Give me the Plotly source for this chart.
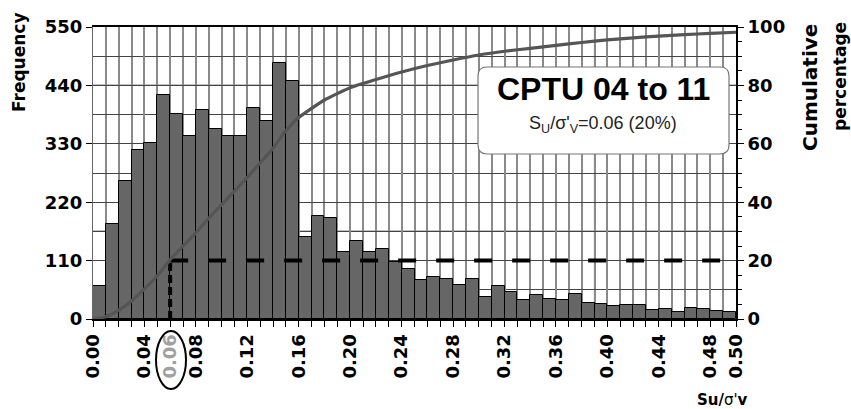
import plotly.graph_objects as go

# ---------------- data ----------------
bin_width = 0.01
bin_left = [round(i * bin_width, 2) for i in range(50)]
frequency = [63, 179, 259, 318, 332, 421, 386, 345, 394, 358,
             345, 345, 398, 373, 483, 448, 154, 194, 190, 126,
             147, 126, 132, 107, 94, 73, 80, 75, 64, 75,
             42, 63, 50, 35, 45, 38, 35, 47, 31, 28,
             24, 26, 26, 17, 19, 14, 20, 19, 15, 13]

cum_x = [0.00, 0.01, 0.02, 0.03, 0.04, 0.05, 0.06, 0.07, 0.08, 0.09,
         0.10, 0.11, 0.12, 0.13, 0.14, 0.15, 0.16, 0.18, 0.20, 0.22,
         0.24, 0.26, 0.28, 0.30, 0.32, 0.34, 0.36, 0.38, 0.40, 0.42,
         0.44, 0.46, 0.48, 0.50]
cum_pct = [0.0, 0.8, 3.0, 6.2, 10.3, 14.8, 20.3, 25.0, 29.5, 34.5,
           39.2, 43.8, 48.5, 53.5, 58.5, 64.5, 69.0, 75.0, 79.2, 82.0,
           84.6, 86.8, 88.7, 90.4, 91.7, 92.7, 93.7, 94.7, 95.6, 96.3,
           96.9, 97.4, 97.8, 98.2]

x_tickvals = [0.00, 0.04, 0.06, 0.08, 0.12, 0.16, 0.20, 0.24, 0.28, 0.32,
              0.36, 0.40, 0.44, 0.48, 0.50]
x_ticktext = ["0.00", "0.04", "<span style='color:#a0a0a0'>0.06</span>", "0.08",
              "0.12", "0.16", "0.20", "0.24", "0.28", "0.32", "0.36",
              "0.40", "0.44", "0.48", "0.50"]
freq_ticks = [0, 110, 220, 330, 440, 550]
pct_ticks = [0, 20, 40, 60, 80, 100]

su_value = 0.06        # selected Su/σ'v
su_pct_freq = 110      # 20 % level expressed on the frequency axis
emph_x = [0.06, 0.13, 0.30, 0.39, 0.43]   # darker grid lines
emph_y = [165, 440]

# ---------------- layout geometry ----------------
W, H = 851, 409
L, R, T, B = 93, 115, 27, 90
PW, PH = W - L - R, H - T - B


def px(xp):
    return (xp - L) / PW


def py(yp):
    return (H - B - yp) / PH


TICKFONT = dict(family="DejaVu Sans", size=18, color="black", weight="bold")
VGRID = "#8a8a8a"
HGRID = "#444444"

fig = go.Figure()

fig.add_trace(go.Bar(
    x=bin_left, y=frequency, width=bin_width, offset=0,
    marker=dict(color="#666666", line=dict(color="black", width=1)),
    showlegend=False, hoverinfo="skip"))

fig.add_trace(go.Scatter(
    x=cum_x, y=cum_pct, yaxis="y2", mode="lines",
    line=dict(color="#555555", width=3.2, shape="spline", smoothing=0.5),
    showlegend=False, hoverinfo="skip"))

# dashed guide lines
fig.add_trace(go.Scatter(
    x=[su_value, su_value], y=[0, su_pct_freq], mode="lines",
    line=dict(color="black", width=4, dash="8px,4px"),
    showlegend=False, hoverinfo="skip"))
fig.add_trace(go.Scatter(
    x=[su_value, 0.5], y=[su_pct_freq, su_pct_freq], mode="lines",
    line=dict(color="black", width=4, dash="18px,20px"),
    showlegend=False, hoverinfo="skip"))

shapes = []
for xv in emph_x:
    shapes.append(dict(type="line", xref="x", yref="paper", x0=xv, x1=xv, y0=0, y1=1,
                       line=dict(color="#2a2a2a", width=1.2), layer="below"))
for yv in emph_y:
    shapes.append(dict(type="line", xref="paper", yref="y", x0=0, x1=1, y0=yv, y1=yv,
                       line=dict(color="#111111", width=1.2), layer="below"))

# rounded box
bx0, bx1, by0, by1, rr = 478, 729, 67, 154, 9
path = (f"M {px(bx0 + rr)},{py(by0)} L {px(bx1 - rr)},{py(by0)} "
        f"Q {px(bx1)},{py(by0)} {px(bx1)},{py(by0 + rr)} "
        f"L {px(bx1)},{py(by1 - rr)} Q {px(bx1)},{py(by1)} {px(bx1 - rr)},{py(by1)} "
        f"L {px(bx0 + rr)},{py(by1)} Q {px(bx0)},{py(by1)} {px(bx0)},{py(by1 - rr)} "
        f"L {px(bx0)},{py(by0 + rr)} Q {px(bx0)},{py(by0)} {px(bx0 + rr)},{py(by0)} Z")
shapes.append(dict(type="path", xref="paper", yref="paper", path=path,
                   fillcolor="white", line=dict(color="#777777", width=1.2), layer="above"))

# ellipse around 0.06
shapes.append(dict(type="circle", xref="paper", yref="paper",
                   x0=px(156), x1=px(186), y0=py(389), y1=py(331),
                   line=dict(color="black", width=2)))


def ann(text, xp, yp, font, angle=0):
    return dict(text=text, xref="paper", yref="paper", x=px(xp), y=py(yp),
                xanchor="center", yanchor="middle", textangle=angle,
                showarrow=False, font=font)


annotations = [
    ann("CPTU 04 to 11", 603, 89,
        dict(family="Liberation Sans", size=32, color="black", weight="bold")),
    ann("S<sub>U</sub>/σ'<sub>V</sub>=0.06 (20%)", 603, 124,
        dict(family="Liberation Sans", size=18, color="#222222")),
    ann("Frequency", 19, 62,
        dict(family="DejaVu Sans", size=17, color="black", weight="bold"), -90),
    ann("Cumulative", 810, 88,
        dict(family="DejaVu Sans", size=20, color="black", weight="bold"), -90),
    ann("percentage", 840, 77,
        dict(family="DejaVu Sans", size=17, color="black", weight="bold"), -90),
    ann("<b>Su/</b>σ'<b>v</b>", 722, 400,
        dict(family="DejaVu Sans", size=15, color="black")),
]

fig.update_layout(
    width=W, height=H, autosize=False,
    margin=dict(l=L, r=R, t=T, b=B, pad=0),
    paper_bgcolor="white", plot_bgcolor="white",
    bargap=0, shapes=shapes, annotations=annotations,
    xaxis=dict(range=[0, 0.5], tickvals=x_tickvals, ticktext=x_ticktext, tickangle=-90,
               ticks="outside", ticklen=6, tickcolor="black", tickfont=TICKFONT,
               showgrid=True, gridcolor=VGRID, gridwidth=1.5,
               minor=dict(dtick=0.01, tick0=0, ticks="outside", ticklen=6, tickcolor="black",
                          showgrid=True, gridcolor=VGRID, gridwidth=1.5),
               showline=True, linecolor="black", linewidth=2, mirror=True,
               zeroline=False, automargin=False, fixedrange=True),
    yaxis=dict(range=[0, 550], tickvals=freq_ticks, ticks="outside", ticklen=6,
               tickcolor="black", tickfont=TICKFONT,
               showgrid=True, gridcolor=HGRID, gridwidth=1.3,
               minor=dict(dtick=55, tick0=0, showgrid=True, gridcolor=HGRID, gridwidth=1.3),
               showline=True, linecolor="#666666", linewidth=1,
               zeroline=False, automargin=False, fixedrange=True),
    yaxis2=dict(range=[0, 100], tickvals=pct_ticks, overlaying="y", side="right",
                ticks="outside", ticklen=6, tickcolor="black", tickfont=TICKFONT,
                minor=dict(dtick=5, tick0=0, ticks="outside", ticklen=4, tickcolor="black"),
                showgrid=False, showline=True, linecolor="black", linewidth=2,
                zeroline=False, automargin=False, fixedrange=True),
)

fig.write_html("out.html", config={"displayModeBar": False},
               post_script="document.body.style.margin='0';document.body.style.overflow='hidden';")
